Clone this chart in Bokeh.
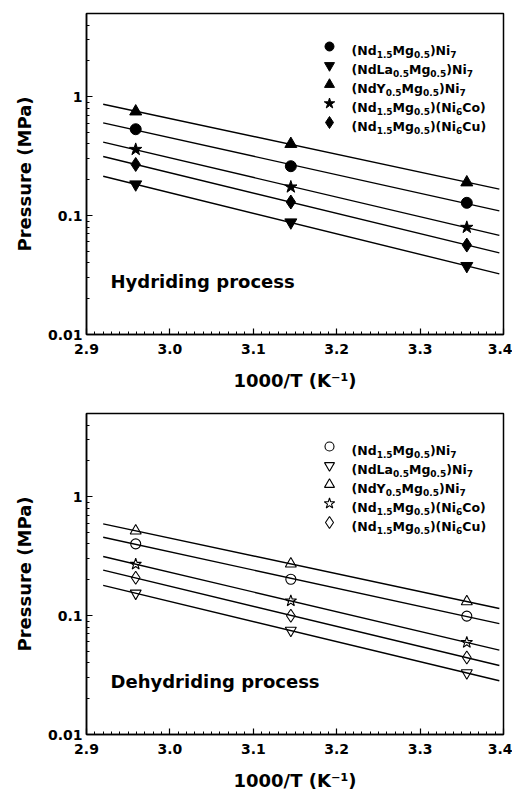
import numpy as np
from bokeh.plotting import figure
from bokeh.models import Range1d, FixedTicker, Label, LinearScale, NumeralTickFormatter
from bokeh.layouts import column
from bokeh.embed import file_html
from bokeh.resources import INLINE

# ---------------- data ----------------
inv_T = [2.959, 3.145, 3.356]          # 1000/T (K^-1)

# Hydriding (filled symbols)
hyd_nd = [0.532, 0.260, 0.128]
hyd_la = [0.183, 0.0877, 0.0377]
hyd_y = [0.750, 0.400, 0.190]
hyd_co = [0.360, 0.174, 0.0796]
hyd_cu = [0.269, 0.130, 0.0565]

# Dehydriding (open symbols)
deh_nd = [0.401, 0.202, 0.099]
deh_la = [0.154, 0.075, 0.0329]
deh_y = [0.516, 0.272, 0.131]
deh_co = [0.270, 0.133, 0.0594]
deh_cu = [0.208, 0.0997, 0.0444]

fit_x = [2.92, 3.395]                  # extent of fitted lines

x_ticks = [2.9, 3.0, 3.1, 3.2, 3.3, 3.4]
x_minor = [round(2.9 + 0.01 * i, 2) for i in range(51)]
y_ticks = [0.01, 0.1, 1]
y_tick_labels = ["0.01", "0.1", "1"]
y_minor = [m * 10.0 ** k for k in (-2, -1, 0) for m in range(2, 10) if m * 10.0 ** k <= 5]

# legend labels: (text, is_subscript)
lab_nd = [("(Nd", 0), ("1.5", 1), ("Mg", 0), ("0.5", 1), (")Ni", 0), ("7", 1)]
lab_la = [("(NdLa", 0), ("0.5", 1), ("Mg", 0), ("0.5", 1), (")Ni", 0), ("7", 1)]
lab_y = [("(NdY", 0), ("0.5", 1), ("Mg", 0), ("0.5", 1), (")Ni", 0), ("7", 1)]
lab_co = [("(Nd", 0), ("1.5", 1), ("Mg", 0), ("0.5", 1), (")(Ni", 0), ("6", 1), ("Co)", 0)]
lab_cu = [("(Nd", 0), ("1.5", 1), ("Mg", 0), ("0.5", 1), (")(Ni", 0), ("6", 1), ("Cu)", 0)]

markers = ["circle", "inverted_triangle", "triangle", "star", "diamond"]
marker_sizes = [11, 12, 12, 13, 14]

# ---------------- styling ----------------
FONT = "DejaVu Sans"
FW, FH = 417, 321
ADV = {"(": .457, ")": .457, ".": .380, "C": .734, "L": .637, "M": .995, "N": .837,
       "Y": .724, "a": .675, "d": .716, "g": .716, "i": .343, "o": .687, "u": .712}
for dch in "0123456789":
    ADV[dch] = .696


def tw(text, size):
    return sum(ADV.get(c, .6) for c in text) * size


def label(p, x, y, text, size, align="left", baseline="middle"):
    p.add_layout(Label(x=x, y=y, x_units="screen", y_units="screen", text=text,
                       text_font=FONT, text_font_size=f"{size}px", text_font_style="bold",
                       text_color="black", text_align=align, text_baseline=baseline))


def make_panel(series, labels, filled, tag, process, height, b_top, b_bottom, xl_standoff):
    p = figure(width=512, height=height, x_range=Range1d(2.9, 3.4), y_range=Range1d(0.01, 5),
               y_axis_type="log", output_backend="svg", toolbar_location=None,
               min_border_left=86, min_border_right=9, min_border_top=b_top,
               min_border_bottom=b_bottom)
    p.extra_x_ranges = {"px": Range1d(0, FW)}
    p.extra_y_ranges = {"px": Range1d(0, FH)}
    p.extra_x_scales = {"px": LinearScale()}
    p.extra_y_scales = {"px": LinearScale()}

    p.xgrid.visible = False
    p.ygrid.visible = False
    p.outline_line_color = "black"
    p.outline_line_width = 1.5
    p.outline_line_alpha = 1.0

    for ax in (p.xaxis[0], p.yaxis[0]):
        ax.axis_line_color = "black"
        ax.axis_line_width = 1.5
        ax.major_tick_in = 6
        ax.major_tick_out = 0
        ax.minor_tick_in = 3
        ax.minor_tick_out = 0
        ax.major_tick_line_width = 1.2
        ax.minor_tick_line_width = 1
        ax.major_label_text_font = FONT
        ax.major_label_text_font_style = "bold"
        ax.major_label_text_font_size = "14px"
        ax.major_label_text_color = "black"
        ax.axis_label_text_font = FONT
        ax.axis_label_text_font_style = "bold"
        ax.axis_label_text_font_size = "18px"
        ax.axis_label_text_color = "black"

    p.xaxis.ticker = FixedTicker(ticks=x_ticks, minor_ticks=x_minor)
    p.xaxis.formatter = NumeralTickFormatter(format="0.0")
    p.xaxis.major_label_standoff = 9
    p.xaxis.axis_label = "1000/T (K\u207b\u00b9)"
    p.xaxis.axis_label_standoff = xl_standoff

    p.yaxis.ticker = FixedTicker(ticks=y_ticks, minor_ticks=y_minor)
    p.yaxis.major_label_overrides = dict(zip(y_ticks, y_tick_labels))
    p.yaxis.major_label_standoff = 4
    p.yaxis.axis_label = "Pressure (MPa)"
    p.yaxis.axis_label_standoff = 10

    for vals, m, s in zip(series, markers, marker_sizes):
        coef = np.polyfit(inv_T, np.log10(vals), 1)
        p.line(fit_x, 10 ** np.polyval(coef, fit_x), line_color="black", line_width=1.4)
        if filled:
            p.scatter(inv_T, vals, marker=m, size=s, fill_color="black", line_color="black")
        else:
            p.scatter(inv_T, vals, marker=m, size=s - 1, fill_color=None,
                      line_color="black", line_width=1.1)

    # legend (manual, to allow subscripts)
    rows = [33, 52, 71, 90, 109]
    leg_x, txt_x = 243, 265
    for r, pieces, m, s in zip(rows, labels, markers, marker_sizes):
        yc = FH - r
        if filled:
            p.scatter([leg_x], [yc], marker=m, size=s - 2, fill_color="black",
                      line_color="black", x_range_name="px", y_range_name="px")
        else:
            p.scatter([leg_x], [yc], marker=m, size=s - 2, fill_color=None, line_color="black",
                      line_width=1.1, x_range_name="px", y_range_name="px")
        base = yc - 4.4
        x = txt_x
        for txt, sub in pieces:
            size = 9 if sub else 12.5
            label(p, x, base - (3.5 if sub else 0), txt, size, baseline="alphabetic")
            x += tw(txt, size)

    label(p, -44, FH - 24, tag, 25, align="center")
    label(p, 24, FH - 268, process, 18)
    return p


pa = make_panel([hyd_nd, hyd_la, hyd_y, hyd_co, hyd_cu],
                [lab_nd, lab_la, lab_y, lab_co, lab_cu], True, "(a)", "Hydriding process",
                396, 13, 62, 13)
pb = make_panel([deh_nd, deh_la, deh_y, deh_co, deh_cu],
                [lab_nd, lab_la, lab_y, lab_co, lab_cu], False, "(b)", "Dehydriding process",
                398, 17, 60, 13)

layout = column(pa, pb, spacing=0)
open("out.html", "w").write(file_html(layout, INLINE))
